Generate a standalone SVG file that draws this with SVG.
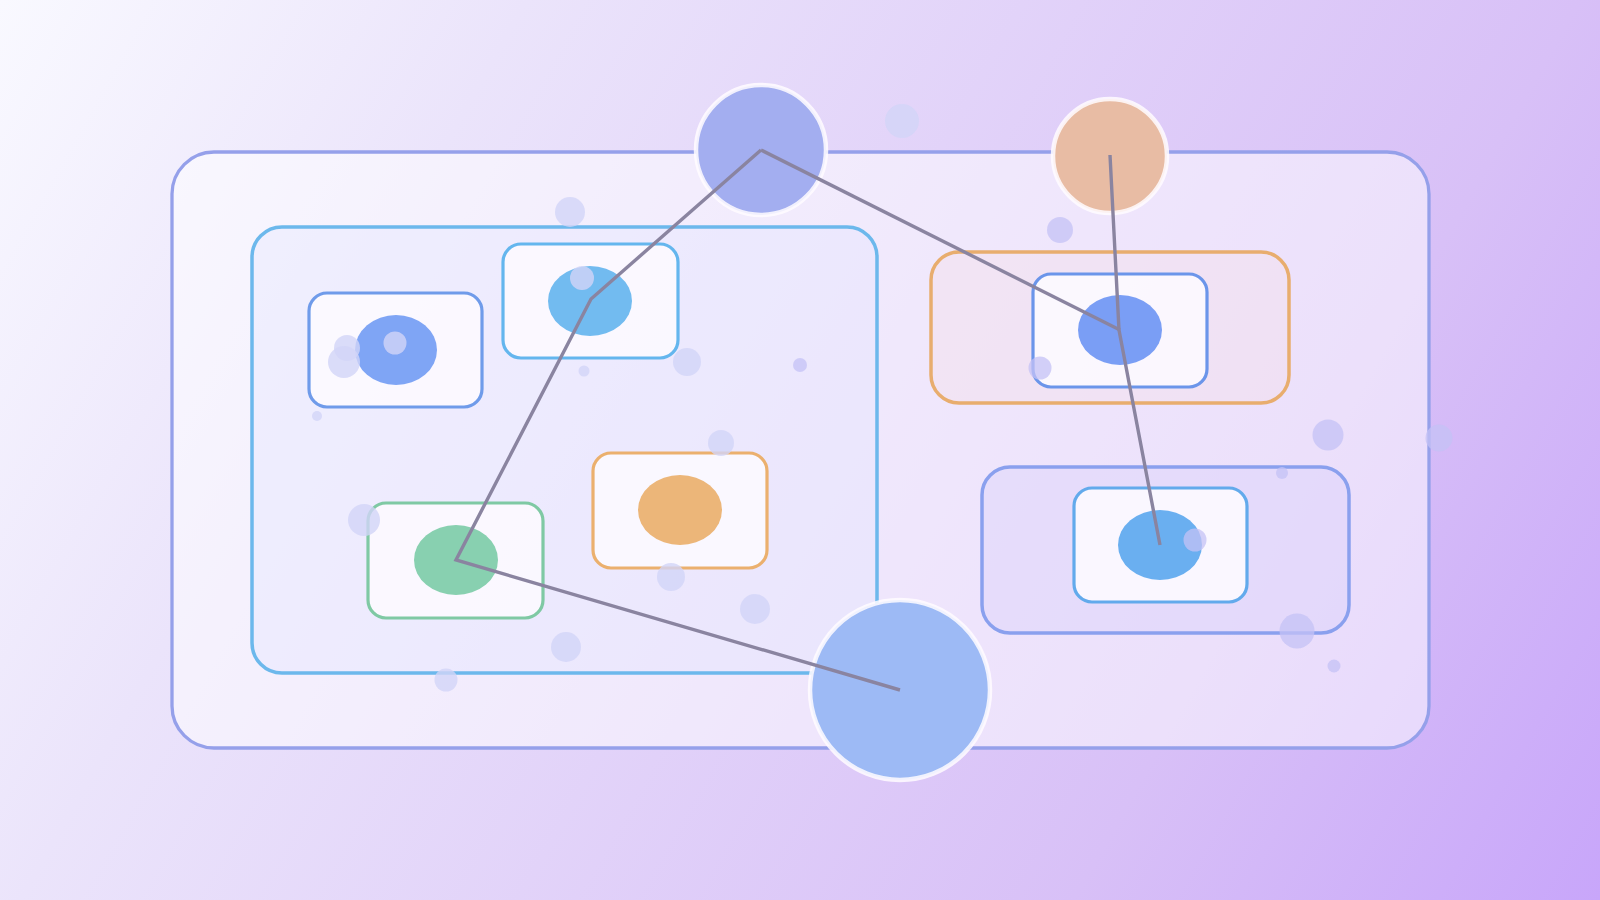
<svg xmlns="http://www.w3.org/2000/svg" width="1600" height="900" viewBox="0 0 1600 900">
  <defs>
    <linearGradient id="bg" gradientUnits="userSpaceOnUse" x1="0" y1="0" x2="1600" y2="900">
      <stop offset="0" stop-color="#f9f9ff"/>
      <stop offset="0.25" stop-color="#ebe4fb"/>
      <stop offset="0.75" stop-color="#d8c0f7"/>
      <stop offset="1" stop-color="#c8a6fa"/>
    </linearGradient>
    <style>
      .outer { fill: rgba(255,255,255,0.5); stroke: #95a0ea; stroke-width: 3.3; }
      .group { stroke-width: 3.5; }
      .card { fill: rgba(252,250,255,0.9); stroke-width: 3.2; }
      .hub { stroke: rgba(255,252,255,0.85); stroke-width: 4.5; }
      .bub { fill: #c4c2f6; opacity: 0.75; }
      .bubl { fill: #d2d4f8; opacity: 0.8; }
      .conn { fill: none; stroke: #8a84a0; stroke-width: 3.4; stroke-linejoin: miter; }
    </style>
  </defs>

  <rect x="0" y="0" width="1600" height="900" fill="url(#bg)"/>

  <g id="container-outer">
    <rect class="outer" x="172" y="152" width="1257" height="596" rx="42"/>
  </g>
  <g id="group-left">
    <rect class="group" x="252" y="227" width="625" height="446" rx="30" fill="rgba(225,228,255,0.35)" stroke="#6cb8ec"/>
  </g>
  <g id="group-right-top">
    <rect class="group" x="931" y="252" width="358" height="151" rx="28" fill="rgba(245,225,235,0.45)" stroke="#e8ad6e"/>
  </g>
  <g id="group-right-bottom">
    <rect class="group" x="982" y="467" width="367" height="166" rx="28" fill="rgba(220,210,250,0.45)" stroke="#8aa0ee"/>
  </g>

  <g id="card-a">
    <rect class="card" x="309" y="293" width="173" height="114" rx="18" stroke="#6f9bea"/>
    <ellipse cx="396" cy="350" rx="41" ry="35" fill="#7fa5f5"/>
  </g>
  <g id="card-b">
    <rect class="card" x="503" y="244" width="175" height="114" rx="18" stroke="#64b6ee"/>
    <ellipse cx="590" cy="301" rx="42" ry="35" fill="#72bbf0"/>
  </g>
  <g id="card-c">
    <rect class="card" x="368" y="503" width="175" height="115" rx="18" stroke="#7fc9a4"/>
    <ellipse cx="456" cy="560" rx="42" ry="35" fill="#88d0b0"/>
  </g>
  <g id="card-d">
    <rect class="card" x="593" y="453" width="174" height="115" rx="18" stroke="#ebb06e"/>
    <ellipse cx="680" cy="510" rx="42" ry="35" fill="#ecb679"/>
  </g>
  <g id="card-e">
    <rect class="card" x="1033" y="274" width="174" height="113" rx="18" stroke="#6b95ea"/>
    <ellipse cx="1120" cy="330" rx="42" ry="35" fill="#7a9ef5"/>
  </g>
  <g id="card-f">
    <rect class="card" x="1074" y="488" width="173" height="114" rx="18" stroke="#62aaec"/>
    <ellipse cx="1160" cy="545" rx="42" ry="35" fill="#6aaff0"/>
  </g>

  <g id="hub-top">
    <circle class="hub" cx="761" cy="150" r="65" fill="#a3aef0"/>
  </g>
  <g id="hub-orange">
    <circle class="hub" cx="1110" cy="156" r="57" fill="#e8bca4"/>
  </g>
  <g id="hub-bottom">
    <circle class="hub" cx="900" cy="690" r="90" fill="#9dbaf5"/>
  </g>

  <g id="connectors">
    <polyline class="conn" points="761,150 591,299 456,560 900,690"/>
    <polyline class="conn" points="761,150 1120,330"/>
    <polyline class="conn" points="1110,155 1119,330 1160,545"/>
  </g>

  <g id="bubbles">
    <circle class="bubl" cx="902" cy="121" r="17"/>
    <circle class="bubl" cx="570" cy="212" r="15"/>
    <circle class="bub" cx="1060" cy="230" r="13"/>
    <circle class="bub" cx="1040" cy="368" r="11.5"/>
    <circle class="bubl" cx="687" cy="362" r="14"/>
    <circle class="bub" cx="800" cy="365" r="7"/>
    <circle class="bubl" cx="584" cy="371" r="5.5"/>
    <circle class="bubl" cx="317" cy="416" r="5"/>
    <circle class="bubl" cx="721" cy="443" r="13"/>
    <circle class="bubl" cx="364" cy="520" r="16"/>
    <circle class="bubl" cx="671" cy="577" r="14"/>
    <circle class="bubl" cx="755" cy="609" r="15"/>
    <circle class="bubl" cx="566" cy="647" r="15"/>
    <circle class="bubl" cx="446" cy="680" r="11.5"/>
    <circle class="bub" cx="1328" cy="435" r="15.5"/>
    <circle class="bub" cx="1439" cy="438" r="13.5"/>
    <circle class="bub" cx="1282" cy="473" r="6"/>
    <circle class="bub" cx="1195" cy="540" r="11.5"/>
    <circle class="bub" cx="1297" cy="631" r="17.5"/>
    <circle class="bub" cx="1334" cy="666" r="6.5"/>
    <circle class="bubl" cx="395" cy="343" r="11.5"/>
    <circle class="bubl" cx="347" cy="348" r="13"/>
    <circle class="bubl" cx="344" cy="362" r="16"/>
    <circle class="bubl" cx="582" cy="278" r="12"/>
  </g>
</svg>
